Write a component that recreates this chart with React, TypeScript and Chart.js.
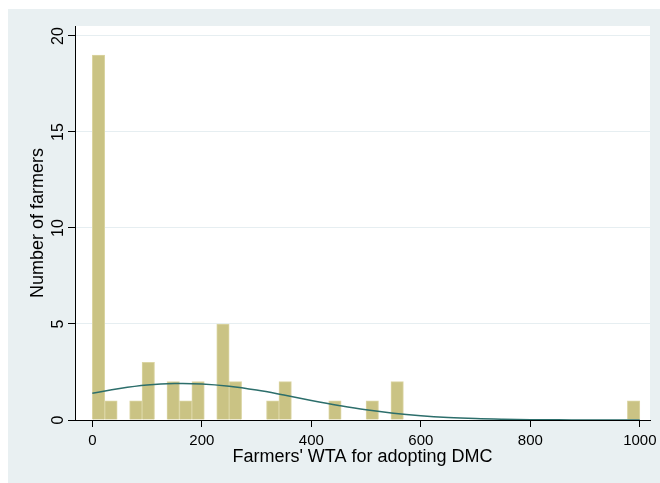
import React, { useEffect, useRef } from 'react';
import { Chart, registerables } from 'chart.js';

Chart.register(...registerables);

// Histogram bins (bin midpoints of WTA) and farmer counts
const binCenters = [11.36, 34.09, 79.55, 102.27, 147.73, 170.45, 193.18, 238.64, 261.36, 329.55, 352.27, 443.18, 511.36, 556.82, 988.64];
const binCounts = [19, 1, 1, 3, 2, 1, 2, 5, 2, 1, 2, 1, 1, 2, 1];

// Normal density overlay
const curveX = [0, 50, 100, 150, 200, 250, 300, 350, 400, 450, 500, 550, 600, 650, 700, 750, 800, 850, 900, 950, 1000];
const curveY = [1.39, 1.64, 1.82, 1.9, 1.88, 1.76, 1.56, 1.3, 1.02, 0.76, 0.53, 0.35, 0.22, 0.13, 0.073, 0.039, 0.019, 0.009, 0.004, 0.002, 0.001];

const xTicks = [0, 200, 400, 600, 800, 1000];
const yTicks = [0, 5, 10, 15, 20];
const xTitle = "Farmers' WTA for adopting DMC";
const yTitle = 'Number of farmers';

const FONT = '"Liberation Sans", Arial, Helvetica, sans-serif';

export default function App() {
  const ref = useRef<HTMLCanvasElement>(null);

  useEffect(() => {
    if (!ref.current) return;
    const decor = {
      id: 'decor',
      beforeDraw(chart: any) {
        const { ctx, chartArea } = chart;
        ctx.save();
        ctx.fillStyle = '#ffffff';
        ctx.fillRect(0, 0, chart.width, chart.height);
        ctx.fillStyle = '#e9f0f2';
        ctx.fillRect(8, 9, chart.width - 8, chart.height - 9);
        ctx.fillStyle = '#ffffff';
        ctx.fillRect(chartArea.left, chartArea.top, chartArea.right - chartArea.left, chartArea.bottom - chartArea.top);
        ctx.restore();
      },
      afterDraw(chart: any) {
        const { ctx, chartArea } = chart;
        const xs = chart.scales.x;
        const ys = chart.scales.y;
        ctx.save();
        ctx.fillStyle = '#000';
        ctx.font = `15px ${FONT}`;
        ctx.textAlign = 'center';
        ctx.textBaseline = 'alphabetic';
        xTicks.forEach((v) => {
          ctx.fillText(String(v), xs.getPixelForValue(v), 445);
        });
        ctx.font = `16px ${FONT}`;
        yTicks.forEach((v) => {
          ctx.save();
          ctx.translate(63, ys.getPixelForValue(v));
          ctx.rotate(-Math.PI / 2);
          ctx.fillText(String(v), 0, 0);
          ctx.restore();
        });
        ctx.font = `18px ${FONT}`;
        ctx.fillText(xTitle, (chartArea.left + chartArea.right) / 2, 462);
        ctx.save();
        ctx.translate(43, (chartArea.top + chartArea.bottom) / 2);
        ctx.rotate(-Math.PI / 2);
        ctx.fillText(yTitle, 0, 0);
        ctx.restore();
        ctx.restore();
      },
    };

    const chart = new Chart(ref.current, {
      type: 'bar',
      data: {
        datasets: [
          {
            type: 'line',
            data: curveX.map((x, i) => ({ x, y: curveY[i] })),
            borderColor: '#2c6e6b',
            borderWidth: 1.5,
            pointRadius: 0,
            tension: 0.4,
            fill: false,
            order: 0,
          } as any,
          {
            type: 'bar',
            data: binCenters.map((x, i) => ({ x, y: binCounts[i] })),
            backgroundColor: '#cac384',
            borderColor: '#dbd5a3',
            borderWidth: 1,
            barPercentage: 1,
            categoryPercentage: 1,
            order: 1,
          } as any,
        ],
      },
      options: {
        animation: false,
        responsive: true,
        maintainAspectRatio: false,
        layout: { padding: { top: 26, right: 10, left: 0, bottom: 0 } },
        plugins: { legend: { display: false }, tooltip: { enabled: false } },
        scales: {
          x: {
            type: 'linear',
            min: -31.6,
            max: 1018.6,
            offset: false,
            afterBuildTicks: (s: any) => {
              s.ticks = xTicks.map((v) => ({ value: v }));
            },
            afterFit: (s: any) => {
              s.height = 63;
            },
            ticks: { display: false },
            grid: {
              offset: false,
              drawOnChartArea: false,
              drawTicks: true,
              tickLength: 7,
              tickColor: '#000',
              tickWidth: 1,
            },
            border: { color: '#000', width: 1 },
          },
          y: {
            type: 'linear',
            min: 0,
            max: 20.52,
            afterBuildTicks: (s: any) => {
              s.ticks = yTicks.map((v) => ({ value: v }));
            },
            afterFit: (s: any) => {
              s.width = 75;
            },
            ticks: { display: false },
            grid: {
              color: (c: any) => (c.tick && c.tick.value === 0 ? 'rgba(0,0,0,0)' : '#e6eef1'),
              lineWidth: 1,
              drawTicks: true,
              tickLength: 7,
              tickColor: '#000',
              tickWidth: 1,
            },
            border: { color: '#000', width: 1 },
          },
        },
      },
      plugins: [decor],
    } as any);
    return () => chart.destroy();
  }, []);

  return (
    <div style={{ position: 'fixed', left: 0, top: 0, width: 660, height: 483 }}>
      <canvas ref={ref} />
    </div>
  );
}
